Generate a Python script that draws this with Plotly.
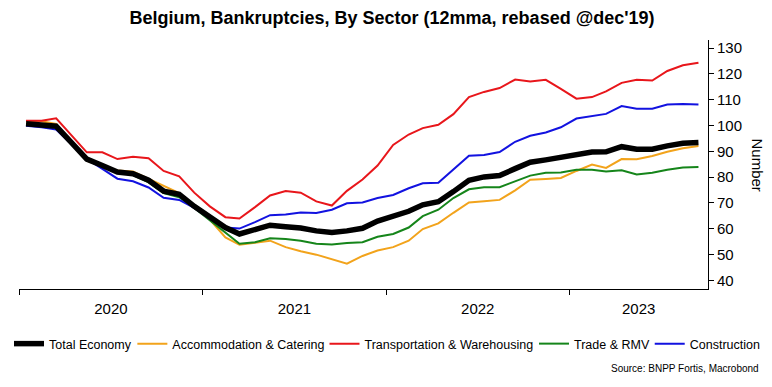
import pandas as pd
import plotly.graph_objects as go

# ---------------- data (12mma, rebased Dec'19 = 100), monthly Jan 2020 .. Sep 2023
first_month = "2020-01-01"
n_months = 45

total_economy = [100.7, 100.3, 99.7, 93.3, 87.0, 84.5, 82.0, 81.3, 78.8, 74.6,
                 73.4, 68.7, 64.3, 60.5, 58.0, 59.5, 61.4, 60.8, 60.3, 59.2,
                 58.6, 59.2, 60.2, 63.0, 64.9, 66.8, 69.3, 70.5, 74.4, 78.8,
                 80.1, 80.6, 83.3, 85.8, 86.7, 87.6, 88.9, 89.7, 89.8, 91.8,
                 90.8, 90.8, 92.1, 93.1, 93.4]
accommodation_catering = [101.6, 101.6, 100.6, 93.5, 86.4, 84.1, 82.6, 82.2, 79.4, 76.5,
                          73.8, 68.7, 63.6, 56.7, 53.8, 54.6, 55.4, 52.9, 51.3, 50.0,
                          48.2, 46.5, 49.5, 51.6, 52.9, 55.4, 59.9, 62.1, 66.2, 70.2,
                          70.7, 71.2, 74.9, 79.0, 79.3, 79.7, 82.4, 84.9, 83.6, 87.0,
                          86.9, 88.2, 89.8, 91.2, 92.1]
transportation_warehousing = [101.8, 101.8, 102.8, 96.2, 89.6, 89.6, 87.0, 87.9, 87.3, 82.4,
                              80.3, 74.0, 68.7, 64.5, 64.0, 68.4, 72.9, 74.6, 74.0, 70.6,
                              69.0, 74.7, 79.1, 84.5, 92.5, 96.5, 99.0, 100.3, 104.4, 111.0,
                              113.0, 114.5, 117.8, 117.0, 117.7, 114.2, 110.4, 111.0, 113.2, 116.5,
                              117.7, 117.4, 121.1, 123.3, 124.3]
trade_rmv = [100.7, 100.3, 99.5, 93.0, 87.0, 84.2, 81.8, 80.8, 78.0, 73.8,
             72.2, 68.1, 63.3, 58.6, 54.2, 54.8, 56.3, 56.1, 55.4, 54.2,
             53.9, 54.5, 54.8, 56.9, 58.0, 60.5, 64.9, 67.4, 71.9, 75.3,
             76.1, 76.1, 78.4, 80.6, 81.7, 81.8, 82.9, 82.9, 82.2, 82.7,
             81.0, 81.7, 82.9, 83.7, 83.9]
construction = [99.9, 99.3, 98.4, 92.7, 87.0, 83.2, 79.4, 78.4, 76.0, 72.0,
                71.2, 68.1, 63.9, 60.5, 60.1, 62.6, 65.3, 65.5, 66.3, 66.1,
                67.4, 69.9, 70.2, 71.9, 73.1, 75.7, 77.6, 77.8, 82.9, 88.3,
                88.6, 89.7, 93.7, 96.0, 97.3, 99.3, 102.7, 103.8, 104.5, 107.5,
                106.5, 106.5, 108.1, 108.3, 108.1]

series_names = ["Total Economy", "Accommodation & Catering", "Transportation & Warehousing",
                "Trade & RMV", "Construction"]
year_labels = ["2020", "2021", "2022", "2023"]
y_ticks = [40, 50, 60, 70, 80, 90, 100, 110, 120, 130]

title_text = "Belgium, Bankruptcies, By Sector (12mma, rebased @dec'19)"
source_text = "Source: BNPP Fortis, Macrobond"
y_title = "Number"

# ---------------- layout / style
W, H = 772, 387
ML, MR, MT, MB = 19, 64, 40, 93
PW, PH = W - ML - MR, H - MT - MB
x_range = [pd.Timestamp("2020-01-01"), pd.Timestamp("2023-10-04")]
y_range = [36.7, 133.1]
FONT = "Liberation Sans, Arial, sans-serif"

# monthly observations plotted mid-month
dates = pd.date_range(first_month, periods=n_months, freq="MS") + pd.Timedelta(days=14)

styles = {
    "Total Economy": dict(color="#000000", width=5.5),
    "Accommodation & Catering": dict(color="#f2a31b", width=2),
    "Transportation & Warehousing": dict(color="#e8161b", width=2),
    "Trade & RMV": dict(color="#15851a", width=2),
    "Construction": dict(color="#1212e0", width=2),
}
values = {
    "Total Economy": total_economy,
    "Accommodation & Catering": accommodation_catering,
    "Transportation & Warehousing": transportation_warehousing,
    "Trade & RMV": trade_rmv,
    "Construction": construction,
}
legend_ids = ["legend", "legend2", "legend3", "legend4", "legend5"]

fig = go.Figure()
# draw total economy last (on top)
draw_order = series_names[1:] + series_names[:1]
for name in draw_order:
    idx = series_names.index(name)
    fig.add_trace(go.Scatter(
        x=dates, y=values[name], name=name, mode="lines",
        line=dict(color=styles[name]["color"], width=styles[name]["width"]),
        legend=legend_ids[idx], showlegend=True,
    ))

# year label positions: centre of visible part of each year
year_starts = [pd.Timestamp(f"{y}-01-01") for y in year_labels]
label_pos = []
for y in year_labels:
    a = max(pd.Timestamp(f"{y}-01-01"), x_range[0])
    b = min(pd.Timestamp(f"{int(y) + 1}-01-01"), x_range[1])
    label_pos.append(a + (b - a) / 2)

# empty trace so the label axis is drawn
fig.add_trace(go.Scatter(x=[], y=[], xaxis="x2", yaxis="y", showlegend=False,
                         hoverinfo="skip"))

# legends placed one per entry so they fit on a single row
LEG_FONT = 12.5
char_w = {"Total Economy": 6.669, "Accommodation & Catering": 12.171,
          "Transportation & Warehousing": 13.561, "Trade & RMV": 6.057, "Construction": 5.613}
legend_layout = {}
s = 14.0
for idx, name in enumerate(series_names):
    legend_layout[legend_ids[idx]] = dict(
        x=(s - 5) / W, xref="container", xanchor="left",
        y=1 - 344 / H, yref="container", yanchor="middle",
        orientation="h", bgcolor="rgba(0,0,0,0)", borderwidth=0,
        font=dict(family=FONT, size=LEG_FONT, color="#000"),
        itemwidth=30, tracegroupgap=0,
    )
    s = s + 35 + char_w[name] * LEG_FONT + 5

fig.update_layout(
    width=W, height=H,
    margin=dict(l=ML, r=MR, t=MT, b=MB, pad=0),
    paper_bgcolor="white", plot_bgcolor="white",
    font=dict(family=FONT, color="#000"),
    title=dict(text=f"<b>{title_text}</b>", x=392 / W, xref="container", xanchor="center",
               y=1 - 18 / H, yref="container", yanchor="middle",
               font=dict(family=FONT, size=18, color="#000")),
    xaxis=dict(type="date", range=x_range, showgrid=False, zeroline=False,
               showline=True, linecolor="#000", linewidth=1,
               tickmode="array", tickvals=year_starts, showticklabels=False,
               ticks="outside", ticklen=5, tickcolor="#000", tickwidth=1),
    xaxis2=dict(type="date", range=x_range, overlaying="x", anchor="y", side="bottom",
                showgrid=False, zeroline=False, showline=False,
                tickmode="array", tickvals=label_pos, ticktext=year_labels,
                ticks="outside", ticklen=6, tickcolor="rgba(0,0,0,0)",
                tickfont=dict(family=FONT, size=15, color="#000")),
    yaxis=dict(range=y_range, side="right", showgrid=False, zeroline=False,
               showline=True, linecolor="#000", linewidth=1,
               tickmode="array", tickvals=y_ticks,
               ticks="outside", ticklen=5, tickcolor="#000", tickwidth=1,
               tickfont=dict(family=FONT, size=15, color="#000")),
    annotations=[
        dict(text=y_title, textangle=90, xref="paper", yref="paper",
             x=(757 - ML) / PW, y=(H - MB - 167) / PH, xanchor="center", yanchor="middle",
             showarrow=False, font=dict(family=FONT, size=15, color="#000")),
        dict(text=source_text, xref="paper", yref="paper",
             x=(761 - ML) / PW, y=(H - MB - 375) / PH, xanchor="right", yanchor="middle",
             showarrow=False, font=dict(family=FONT, size=10, color="#000")),
    ],
    showlegend=True,
    **legend_layout,
)

fig.write_html("out.html",
               config={"displayModeBar": False},
               post_script="document.body.style.margin='0';document.body.style.padding='0';")
